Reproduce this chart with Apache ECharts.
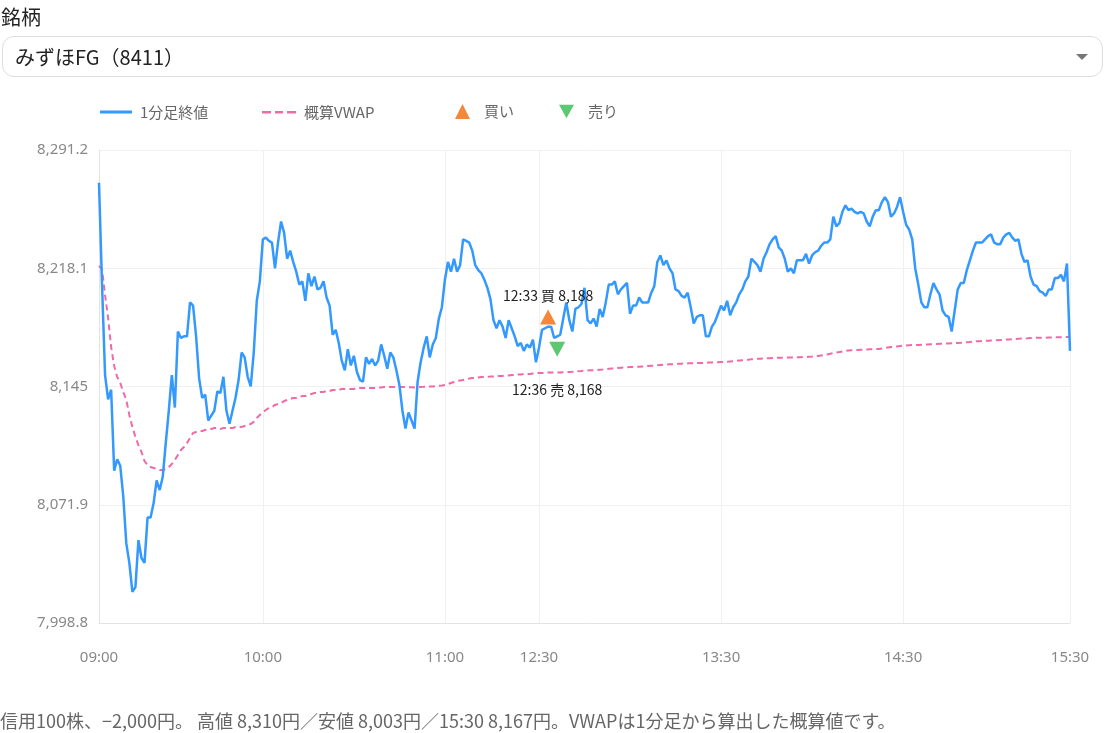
<!DOCTYPE html>
<html><head><meta charset="utf-8">
<script src="https://cdn.jsdelivr.net/npm/echarts@6/dist/echarts.min.js"></script>
<style>
html,body{margin:0;padding:0;background:#fff;width:1105px;height:733px;overflow:hidden;font-family:"Noto Sans CJK JP","Noto Sans",sans-serif;}
#chart{position:absolute;left:0;top:0;width:1105px;height:733px}
#label{position:absolute;left:1px;top:3px;font-size:20px;line-height:28px;color:#222;}
#sel{position:absolute;left:2px;top:36px;width:1099px;height:39px;border:1px solid #ddd;border-radius:12px;}
#sel span{position:absolute;left:12px;top:0;line-height:39px;font-size:20px;color:#222}
#arrow{position:absolute;right:14px;top:17px;width:0;height:0;border-left:6px solid transparent;border-right:6px solid transparent;border-top:6px solid #777}
#foot{position:absolute;left:0;top:708px;font-size:18px;line-height:24px;color:#666;white-space:nowrap}
</style>
</head><body>
<div id="chart"></div>
<div id="label">銘柄</div>
<div id="sel"><span>みずほFG（8411）</span><div id="arrow"></div></div>
<div id="foot">信用100株、−2,000円。 高値 8,310円／安値 8,003円／15:30 8,167円。VWAPは1分足から算出した概算値です。</div>
<script>
// ---- data ----
const SESSIONS = [['09:00','11:30'],['12:30','15:30']];
const MISSING = ['09:04','09:13','09:21','09:29','09:38','09:47','14:39','14:48','14:58','15:09','15:19'];
const X_TICKS = ['09:00','10:00','11:00','12:30','13:30','14:30','15:30'];
const Y_TICKS = [7998.8, 8071.9, 8145, 8218.1, 8291.2];
const Y_MIN = 7998.8, Y_MAX = 8291.2;

const CLOSE = [
8271,8208,8152,8137,8143,8093,8100,8096,8077,8048,
8036,8018,8021,8050,8039,8036,8064,8064,8073,8087,
8081,8089,8110,8130,8152,8132,8179,8175,8176,8176,
8197,8195,8176,8150,8138,8140,8124,8127,8130,8142,
8141,8151,8130,8122,8130,8138,8149,8166,8163,8151,
8145,8166,8198,8210,8236,8237,8235,8234,8218,8234,
8247,8240,8224,8229,8222,8216,8208,8210,8198,8215,
8207,8213,8205,8206,8210,8200,8195,8177,8180,8172,
8161,8155,8168,8158,8164,8154,8149,8148,8163,8159,
8162,8158,8161,8171,8164,8156,8166,8163,8155,8146,
8130,8119,8129,8124,8119,8148,8160,8169,8176,8163,
8171,8175,8187,8194,8211,8222,8216,8224,8216,8220,
8236,8235,8234,8229,8220,8217,8215,8211,8206,8199,
8186,8181,8186,8182,8175,8186,8181,8176,8170,8172,
8167,8171,8169,8174,8160,8169,8180,8181,8182,8182,
8175,8176,8177,8187,8197,8186,8179,8193,8194,8196,
8206,8186,8184,8187,8182,8193,8188,8197,8208,8208,
8210,8202,8205,8207,8209,8190,8195,8195,8200,8197,
8197,8197,8203,8207,8222,8226,8220,8223,8218,8215,
8205,8204,8201,8200,8203,8194,8184,8188,8189,8189,
8176,8176,8182,8185,8190,8195,8192,8198,8189,8194,
8197,8202,8205,8210,8213,8224,8222,8220,8216,8224,
8228,8233,8236,8238,8231,8229,8224,8216,8218,8215,
8223,8223,8223,8227,8221,8226,8228,8229,8232,8234,
8234,8236,8250,8244,8246,8253,8257,8254,8255,8253,
8252,8253,8252,8247,8244,8250,8254,8254,8259,8262,
8259,8250,8252,8256,8262,8253,8245,8242,8236,8218,
8208,8197,8194,8194,8202,8209,8205,8202,8192,8189,
8188,8179,8192,8205,8209,8209,8217,8223,8229,8234,
8234,8234,8236,8238,8239,8234,8233,8233,8237,8239,
8240,8237,8235,8236,8227,8222,8223,8213,8208,8207,
8204,8203,8201,8205,8205,8212,8212,8214,8210,8221,8167
];

const VWAP = [
8219.5,8217.6,8201.6,8187.3,8169.4,8157.7,8150.9,8147.2,8141.6,8136.7,
8127.4,8120.0,8113.8,8108.8,8104.5,8098.9,8096.5,8095.2,8094.6,8094.0,
8093.4,8093.4,8094.0,8095.2,8097.1,8099.6,8102.7,8105.7,8107.6,8110.1,
8113.2,8116.3,8116.9,8117.5,8117.5,8118.1,8118.7,8118.7,8119.3,8119.3,
8118.7,8119.3,8119.3,8119.3,8119.3,8120.0,8120.0,8120.0,8120.6,8121.2,
8121.8,8123.1,8125.5,8127.4,8129.2,8130.5,8131.7,8132.3,8133.6,8134.2,
8134.8,8136.0,8136.7,8137.3,8137.9,8137.9,8138.5,8139.1,8139.1,8139.7,
8140.4,8141.0,8141.0,8141.6,8141.6,8142.2,8142.2,8142.8,8142.8,8142.8,
8143.5,8143.5,8143.5,8143.5,8143.5,8144.1,8144.1,8144.1,8144.1,8144.1,
8144.1,8144.1,8144.4,8144.4,8144.7,8144.7,8144.7,8144.7,8144.7,8144.7,
8144.7,8144.6,8144.6,8144.5,8144.4,8144.6,8144.7,8144.8,8145.0,8145.0,
8145.0,8145.3,8145.4,8145.6,8145.9,8146.5,8147.2,8147.8,8148.4,8148.7,
8149.0,8149.6,8149.9,8150.3,8150.3,8150.6,8150.9,8150.9,8150.9,8151.2,
8151.2,8151.5,8151.5,8151.5,8151.8,8151.8,8152.1,8152.1,8152.4,8152.4,
8152.7,8152.7,8152.7,8153.0,8153.0,8153.3,8153.3,8153.3,8153.6,8153.6,
8153.6,8153.7,8153.7,8153.8,8153.9,8154.0,8154.1,8154.3,8154.5,8154.6,
8154.8,8154.9,8155.0,8155.1,8155.2,8155.4,8155.5,8155.7,8155.9,8156.1,
8156.3,8156.5,8156.6,8156.7,8156.9,8157.0,8157.0,8157.1,8157.2,8157.4,
8157.5,8157.7,8157.8,8157.9,8158.1,8158.3,8158.5,8158.6,8158.7,8158.8,
8158.9,8159.0,8159.1,8159.2,8159.3,8159.4,8159.4,8159.5,8159.6,8159.6,
8159.7,8159.8,8159.9,8160.0,8160.0,8160.1,8160.2,8160.3,8160.5,8160.6,
8160.8,8161.0,8161.2,8161.4,8161.6,8161.8,8162.0,8162.1,8162.2,8162.3,
8162.4,8162.5,8162.6,8162.7,8162.7,8162.8,8162.8,8162.9,8163.0,8163.0,
8163.1,8163.1,8163.2,8163.2,8163.4,8163.5,8163.7,8163.9,8164.2,8164.5,
8164.8,8165.2,8165.6,8166.0,8166.3,8166.7,8167.0,8167.2,8167.4,8167.5,
8167.6,8167.7,8167.8,8167.9,8168.0,8168.1,8168.1,8168.2,8168.5,8168.8,
8169.1,8169.4,8169.6,8169.8,8170.0,8170.2,8170.4,8170.5,8170.6,8170.6,
8170.7,8170.8,8170.9,8171.0,8171.1,8171.2,8171.3,8171.4,8171.4,8171.5,
8171.6,8171.7,8171.8,8171.9,8172.0,8172.2,8172.4,8172.5,8172.7,8172.9,
8173.0,8173.1,8173.2,8173.3,8173.4,8173.5,8173.6,8173.7,8173.8,8174.0,
8174.1,8174.3,8174.4,8174.5,8174.6,8174.7,8174.8,8175.0,8175.0,8175.1,
8175.1,8175.2,8175.2,8175.3,8175.3,8175.4,8175.4,8175.5,8175.5,8175.6,8175.6
];

const BUY_TIMES = ['12:33'];
const BUY_PRICES = [8188];
const SELL_TIMES = ['12:36'];
const SELL_PRICES = [8168];

// ---- build category axis (minute bars, lunch break excluded) ----
function toMin(s){const [h,m]=s.split(':').map(Number);return h*60+m;}
function toStr(n){const h=Math.floor(n/60),m=n%60;return String(h).padStart(2,'0')+':'+String(m).padStart(2,'0');}
const CATS = [];
SESSIONS.forEach(([a,b])=>{for(let t=toMin(a);t<=toMin(b);t++){const s=toStr(t);if(!MISSING.includes(s))CATS.push(s);}});

const fmt = v => Number(v).toLocaleString('en-US',{maximumFractionDigits:1});
const FONT = '"Noto Sans","Noto Sans CJK JP",sans-serif';
const JFONT = '"Noto Sans CJK JP","Noto Sans",sans-serif';
const DOWN_TRI = 'path://M0,0L10,0L5,9Z';
const LINE_ICON = 'path://M0,0H32V3H0Z';
const DASH_ICON = 'path://M0,0H9V2.5H0Z M13,0H21V2.5H13Z M25,0H34V2.5H25Z';
const legText = pad => ({color:'#666',fontSize:15,fontFamily:JFONT,padding:[0,0,0,pad]});

const chart = echarts.init(document.getElementById('chart'), null, {renderer:'canvas'});
const showTick = (i, v) => X_TICKS.includes(v);
chart.setOption({
  animation:false,
  textStyle:{fontFamily:FONT},
  grid:{left:99,right:35,top:150,bottom:110,containLabel:false},
  legend:[
    {data:[{name:'1分足終値',icon:LINE_ICON}],left:95,top:99.5,itemWidth:32,itemHeight:3,itemGap:0,textStyle:legText(3)},
    {data:[{name:'概算VWAP',icon:DASH_ICON}],left:257,top:99.7,itemWidth:34,itemHeight:2.5,itemGap:0,textStyle:legText(3)},
    {data:[{name:'買い',icon:'triangle'}],left:450,top:99,itemWidth:15,itemHeight:15,itemGap:0,textStyle:legText(9)},
    {data:[{name:'売り',icon:DOWN_TRI}],left:554,top:99,itemWidth:15,itemHeight:15,itemGap:0,textStyle:legText(9)}
  ],
  xAxis:{
    type:'category',data:CATS,boundaryGap:false,
    axisLine:{show:true,lineStyle:{color:'#e3e3e3'}},
    axisTick:{show:false},
    axisLabel:{interval:showTick,color:'#888',fontSize:15,margin:27,fontFamily:FONT},
    splitLine:{show:true,interval:showTick,lineStyle:{color:'#f0f0f0'}}
  },
  yAxis:{
    type:'value',min:Y_MIN,max:Y_MAX,
    axisLine:{show:true,lineStyle:{color:'#e3e3e3'}},
    axisTick:{show:false,customValues:Y_TICKS},
    axisLabel:{customValues:Y_TICKS,formatter:fmt,color:'#888',fontSize:15,margin:11,fontFamily:FONT},
    splitLine:{show:true,lineStyle:{color:'#f0f0f0'}}
  },
  series:[
    {name:'1分足終値',type:'line',data:CLOSE,symbol:'none',z:3,
     lineStyle:{width:2.5,color:'#3399ff'},itemStyle:{color:'#3399ff'}},
    {name:'概算VWAP',type:'line',data:VWAP,symbol:'none',z:2,
     lineStyle:{width:2,type:[6,4],color:'#f06aa8'},itemStyle:{color:'#f06aa8'}},
    {name:'買い',type:'scatter',symbol:'triangle',symbolSize:[16,15],z:4,
     itemStyle:{color:'#f5873a',opacity:1},
     data:BUY_TIMES.map((t,i)=>[t,BUY_PRICES[i]]),
     label:{show:true,position:'top',distance:7,color:'#222',fontSize:14,fontFamily:JFONT,
       formatter:p=>p.value[0]+' 買 '+fmt(p.value[1])}},
    {name:'売り',type:'scatter',symbol:DOWN_TRI,symbolSize:[16,15],z:4,
     itemStyle:{color:'#5cc872',opacity:1},
     data:SELL_TIMES.map((t,i)=>[t,SELL_PRICES[i]]),
     label:{show:true,position:'bottom',distance:26,color:'#222',fontSize:14,fontFamily:JFONT,
       formatter:p=>p.value[0]+' 売 '+fmt(p.value[1])}}
  ]
});
</script>
</body></html>
